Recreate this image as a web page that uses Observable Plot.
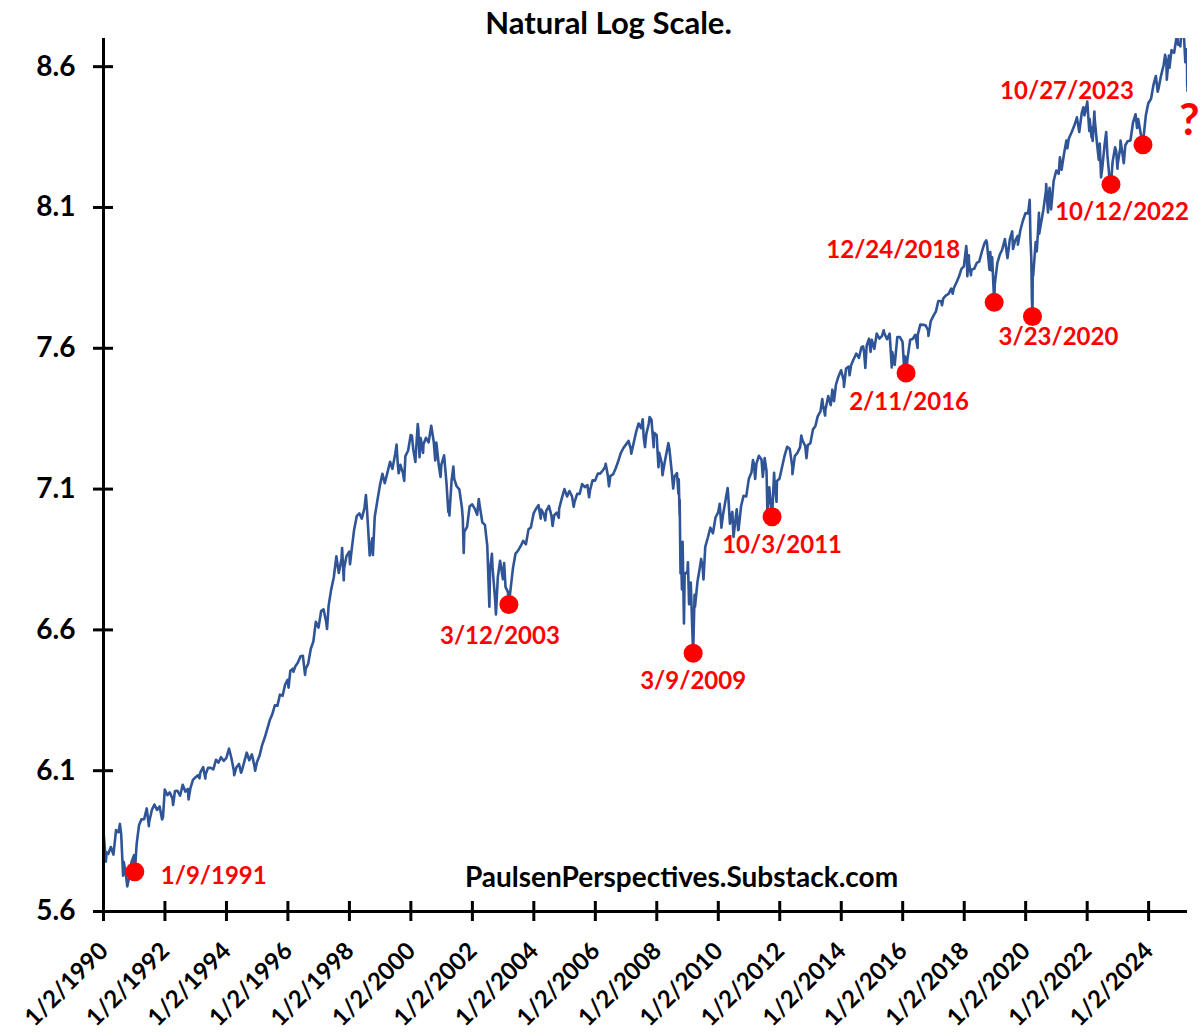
<!DOCTYPE html>
<html>
<head>
<meta charset="utf-8">
<script src="https://cdn.jsdelivr.net/npm/d3@7"></script>
<script src="https://cdn.jsdelivr.net/npm/@observablehq/plot@0.6"></script>
<style>
  html, body { margin: 0; padding: 0; background: #ffffff; }
  #chart { width: 1201px; height: 1036px; overflow: hidden; }
</style>
</head>
<body>
<div id="chart"></div>
<script>
// ---------------- text ----------------
const TITLE = "Natural Log Scale.";
const SOURCE = "PaulsenPerspectives.Substack.com";
const OPEN_QUESTION = "?";

// ---------------- axes ----------------
const xTickLabels = ["1/2/1990","1/2/1992","1/2/1994","1/2/1996","1/2/1998","1/2/2000",
  "1/2/2002","1/2/2004","1/2/2006","1/2/2008","1/2/2010","1/2/2012","1/2/2014",
  "1/2/2016","1/2/2018","1/2/2020","1/2/2022","1/2/2024"];
const yTickValues = [5.6, 6.1, 6.6, 7.1, 7.6, 8.1, 8.6];
const xDomainLabels = ["1990-01-02", "2025-04-08"];
const yDomainValues = [5.6, 8.7];

// ---------------- series: natural log of the index ----------------
const lnIndex = [
["1990-01-02",5.885],["1990-01-30",5.777],["1990-02-09",5.810],["1990-02-28",5.805],["1990-03-30",5.829],
["1990-04-30",5.802],["1990-05-31",5.889],["1990-06-29",5.881],["1990-07-16",5.911],["1990-07-31",5.875],
["1990-08-23",5.727],["1990-08-31",5.776],["1990-09-28",5.724],["1990-10-11",5.689],["1990-10-31",5.717],
["1990-11-30",5.775],["1990-12-31",5.800],["1991-01-09",5.741],["1991-01-31",5.840],["1991-02-28",5.906],
["1991-03-28",5.927],["1991-04-30",5.928],["1991-05-31",5.966],["1991-06-25",5.903],["1991-06-28",5.917],
["1991-07-31",5.961],["1991-08-30",5.980],["1991-09-30",5.961],["1991-10-31",5.973],["1991-11-29",5.927],
["1991-12-10",5.935],["1991-12-31",6.033],["1992-01-31",6.013],["1992-02-28",6.023],["1992-03-31",6.001],
["1992-04-08",5.978],["1992-04-30",6.028],["1992-05-29",6.029],["1992-06-30",6.011],["1992-07-31",6.050],
["1992-08-31",6.026],["1992-09-30",6.035],["1992-10-09",5.998],["1992-10-30",6.037],["1992-11-30",6.067],
["1992-12-31",6.077],["1993-01-29",6.084],["1993-02-16",6.073],["1993-02-26",6.094],["1993-03-31",6.113],
["1993-04-26",6.072],["1993-04-30",6.087],["1993-05-28",6.110],["1993-06-30",6.110],["1993-07-30",6.105],
["1993-08-31",6.139],["1993-09-30",6.129],["1993-10-29",6.148],["1993-11-30",6.135],["1993-12-31",6.145],
["1994-01-31",6.177],["1994-02-02",6.178],["1994-02-28",6.147],["1994-03-31",6.100],["1994-04-04",6.084],
["1994-04-29",6.111],["1994-05-31",6.124],["1994-06-24",6.093],["1994-06-30",6.096],["1994-07-29",6.128],
["1994-08-31",6.164],["1994-09-30",6.137],["1994-10-31",6.158],["1994-11-30",6.117],["1994-12-09",6.100],
["1994-12-30",6.130],["1995-01-31",6.154],["1995-02-28",6.189],["1995-03-31",6.216],["1995-04-28",6.244],
["1995-05-31",6.279],["1995-06-30",6.300],["1995-07-31",6.332],["1995-08-31",6.331],["1995-09-29",6.370],
["1995-10-31",6.366],["1995-11-30",6.406],["1995-12-29",6.423],["1996-01-10",6.395],["1996-01-31",6.455],
["1996-02-29",6.462],["1996-03-08",6.451],["1996-03-29",6.470],["1996-04-30",6.484],["1996-05-31",6.506],
["1996-06-28",6.508],["1996-07-24",6.440],["1996-07-31",6.461],["1996-08-30",6.480],["1996-09-30",6.533],
["1996-10-31",6.559],["1996-11-29",6.629],["1996-12-31",6.608],["1997-01-31",6.667],["1997-02-28",6.673],
["1997-03-31",6.630],["1997-04-11",6.603],["1997-04-30",6.686],["1997-05-30",6.743],["1997-06-30",6.786],
["1997-07-31",6.861],["1997-08-29",6.802],["1997-09-30",6.853],["1997-10-07",6.891],["1997-10-27",6.776],
["1997-10-31",6.819],["1997-11-28",6.862],["1997-12-31",6.878],["1998-01-09",6.833],["1998-01-30",6.888],
["1998-02-27",6.956],["1998-03-31",7.005],["1998-04-30",7.014],["1998-05-29",6.995],["1998-06-30",7.033],
["1998-07-17",7.079],["1998-07-31",7.022],["1998-08-31",6.864],["1998-09-30",6.925],["1998-10-08",6.866],
["1998-10-30",7.002],["1998-11-30",7.059],["1998-12-31",7.114],["1999-01-29",7.154],["1999-02-26",7.121],
["1999-03-31",7.160],["1999-04-30",7.197],["1999-05-28",7.172],["1999-06-30",7.225],["1999-07-16",7.258],
["1999-07-30",7.192],["1999-08-10",7.156],["1999-08-31",7.186],["1999-09-30",7.157],["1999-10-15",7.129],
["1999-10-29",7.217],["1999-11-30",7.236],["1999-12-31",7.292],["2000-01-14",7.290],["2000-01-31",7.240],
["2000-02-25",7.196],["2000-02-29",7.220],["2000-03-24",7.331],["2000-03-31",7.312],["2000-04-14",7.213],
["2000-04-28",7.281],["2000-05-26",7.228],["2000-05-31",7.259],["2000-06-30",7.282],["2000-07-31",7.266],
["2000-08-31",7.325],["2000-09-29",7.270],["2000-10-18",7.202],["2000-10-31",7.265],["2000-11-30",7.182],
["2000-12-20",7.143],["2000-12-29",7.186],["2001-01-31",7.220],["2001-02-28",7.123],["2001-03-22",7.019],
["2001-03-30",7.056],["2001-04-04",7.006],["2001-04-30",7.131],["2001-05-21",7.180],["2001-05-31",7.136],
["2001-06-29",7.110],["2001-07-31",7.099],["2001-08-31",7.033],["2001-09-10",6.996],["2001-09-21",6.873],
["2001-09-28",6.948],["2001-10-31",6.966],["2001-11-30",7.038],["2001-12-31",7.046],["2002-01-31",7.030],
["2002-02-28",7.009],["2002-03-19",7.065],["2002-03-28",7.045],["2002-04-30",6.982],["2002-05-31",6.973],
["2002-06-28",6.898],["2002-07-23",6.682],["2002-07-31",6.815],["2002-08-22",6.870],["2002-08-30",6.820],
["2002-09-30",6.704],["2002-10-09",6.655],["2002-10-31",6.786],["2002-11-27",6.845],["2002-11-29",6.842],
["2002-12-31",6.780],["2003-01-14",6.837],["2003-01-31",6.752],["2003-02-28",6.735],["2003-03-11",6.686],
["2003-03-12",6.690],["2003-03-31",6.743],["2003-04-30",6.821],["2003-05-30",6.871],["2003-06-30",6.882],
["2003-07-31",6.898],["2003-08-29",6.916],["2003-09-30",6.904],["2003-10-31",6.957],["2003-11-28",6.964],
["2003-12-31",7.014],["2004-01-30",7.031],["2004-02-27",7.043],["2004-03-24",6.995],["2004-03-31",7.027],
["2004-04-30",7.010],["2004-05-17",6.989],["2004-05-28",7.022],["2004-06-30",7.040],["2004-07-30",7.005],
["2004-08-12",6.969],["2004-08-31",7.007],["2004-09-30",7.016],["2004-10-25",6.998],["2004-10-29",7.030],
["2004-11-30",7.068],["2004-12-31",7.100],["2005-01-31",7.074],["2005-02-28",7.093],["2005-03-31",7.074],
["2005-04-20",7.037],["2005-04-29",7.053],["2005-05-31",7.083],["2005-06-30",7.083],["2005-07-29",7.118],
["2005-08-31",7.107],["2005-09-30",7.114],["2005-10-20",7.071],["2005-10-31",7.096],["2005-11-30",7.131],
["2005-12-30",7.130],["2006-01-31",7.155],["2006-02-28",7.155],["2006-03-31",7.166],["2006-04-28",7.178],
["2006-05-05",7.190],["2006-05-31",7.147],["2006-06-13",7.110],["2006-06-30",7.147],["2006-07-31",7.152],
["2006-08-31",7.173],["2006-09-29",7.197],["2006-10-31",7.228],["2006-11-30",7.245],["2006-12-29",7.257],
["2007-01-31",7.271],["2007-02-27",7.243],["2007-03-05",7.226],["2007-03-30",7.259],["2007-04-30",7.301],
["2007-05-31",7.333],["2007-06-29",7.316],["2007-07-19",7.348],["2007-07-31",7.283],["2007-08-15",7.249],
["2007-08-31",7.296],["2007-09-28",7.331],["2007-10-09",7.356],["2007-10-31",7.346],["2007-11-26",7.249],
["2007-11-30",7.300],["2007-12-31",7.292],["2008-01-22",7.178],["2008-01-31",7.229],["2008-02-29",7.193],
["2008-03-10",7.149],["2008-03-31",7.187],["2008-04-30",7.234],["2008-05-19",7.263],["2008-05-30",7.245],
["2008-06-30",7.155],["2008-07-15",7.102],["2008-07-31",7.145],["2008-08-29",7.157],["2008-09-15",7.084],
["2008-09-19",7.135],["2008-09-29",7.009],["2008-09-30",7.062],["2008-10-10",6.801],["2008-10-13",6.911],
["2008-10-27",6.744],["2008-10-31",6.876],["2008-11-04",6.913],["2008-11-20",6.623],["2008-11-28",6.798],
["2008-12-31",6.806],["2009-01-06",6.840],["2009-01-20",6.691],["2009-01-30",6.716],["2009-02-09",6.768],
["2009-02-27",6.600],["2009-03-09",6.517],["2009-03-26",6.725],["2009-03-31",6.682],["2009-04-30",6.772],
["2009-05-29",6.823],["2009-06-12",6.852],["2009-06-30",6.824],["2009-07-10",6.779],["2009-07-31",6.895],
["2009-08-31",6.928],["2009-09-30",6.963],["2009-10-30",6.943],["2009-11-30",6.999],["2009-12-31",7.017],
["2010-01-19",7.048],["2010-02-08",6.963],["2010-02-26",7.007],["2010-03-31",7.064],["2010-04-23",7.104],
["2010-04-30",7.079],["2010-05-20",6.977],["2010-05-28",6.993],["2010-06-18",7.019],["2010-06-30",6.938],
["2010-07-02",6.930],["2010-07-30",7.004],["2010-08-09",7.028],["2010-08-26",6.954],["2010-08-31",6.956],
["2010-09-30",7.040],["2010-10-29",7.076],["2010-11-30",7.074],["2010-12-31",7.137],["2011-01-31",7.159],
["2011-02-18",7.203],["2011-02-28",7.191],["2011-03-16",7.136],["2011-03-31",7.190],["2011-04-29",7.218],
["2011-05-31",7.204],["2011-06-15",7.143],["2011-06-30",7.186],["2011-07-07",7.210],["2011-07-29",7.164],
["2011-08-08",7.021],["2011-08-31",7.106],["2011-09-22",7.030],["2011-09-30",7.031],["2011-10-03",7.002],
["2011-10-27",7.158],["2011-10-31",7.134],["2011-11-25",7.055],["2011-11-30",7.129],["2011-12-30",7.137],
["2012-01-31",7.180],["2012-02-29",7.219],["2012-03-30",7.250],["2012-04-30",7.243],["2012-05-31",7.178],
["2012-06-01",7.153],["2012-06-29",7.217],["2012-07-31",7.229],["2012-08-31",7.249],["2012-09-14",7.290],
["2012-09-28",7.273],["2012-10-31",7.253],["2012-11-15",7.210],["2012-11-30",7.256],["2012-12-31",7.263],
["2013-01-31",7.312],["2013-02-28",7.323],["2013-03-28",7.358],["2013-04-30",7.376],["2013-05-21",7.420],
["2013-05-31",7.397],["2013-06-24",7.361],["2013-06-28",7.382],["2013-07-31",7.430],["2013-08-30",7.398],
["2013-09-18",7.453],["2013-09-30",7.427],["2013-10-08",7.412],["2013-10-31",7.471],["2013-11-29",7.499],
["2013-12-31",7.522],["2014-01-31",7.486],["2014-02-03",7.463],["2014-02-28",7.528],["2014-03-31",7.535],
["2014-04-11",7.504],["2014-04-30",7.541],["2014-05-30",7.562],["2014-06-30",7.581],["2014-07-31",7.566],
["2014-08-29",7.603],["2014-09-18",7.607],["2014-09-30",7.587],["2014-10-15",7.530],["2014-10-31",7.610],
["2014-11-28",7.634],["2014-12-16",7.587],["2014-12-31",7.630],["2015-01-30",7.598],["2015-02-27",7.652],
["2015-03-31",7.634],["2015-04-30",7.643],["2015-05-21",7.664],["2015-05-29",7.653],["2015-06-30",7.632],
["2015-07-31",7.652],["2015-08-25",7.532],["2015-08-31",7.587],["2015-09-29",7.541],["2015-10-30",7.640],
["2015-11-30",7.640],["2015-12-31",7.623],["2016-01-20",7.528],["2016-01-29",7.571],["2016-02-11",7.512],
["2016-02-29",7.566],["2016-03-31",7.630],["2016-04-29",7.633],["2016-05-31",7.648],["2016-06-27",7.601],
["2016-06-30",7.649],["2016-07-29",7.684],["2016-08-31",7.683],["2016-09-30",7.682],["2016-10-31",7.662],
["2016-11-03",7.644],["2016-11-30",7.696],["2016-12-30",7.714],["2017-01-31",7.731],["2017-02-28",7.768],
["2017-03-31",7.768],["2017-04-13",7.753],["2017-04-28",7.777],["2017-05-31",7.788],["2017-06-30",7.793],
["2017-07-31",7.812],["2017-08-18",7.794],["2017-08-31",7.813],["2017-09-29",7.832],["2017-10-31",7.854],
["2017-11-30",7.882],["2017-12-29",7.891],["2018-01-26",7.963],["2018-01-31",7.946],["2018-02-08",7.856],
["2018-02-26",7.930],["2018-02-28",7.906],["2018-03-23",7.859],["2018-03-29",7.879],["2018-04-30",7.882],
["2018-05-31",7.903],["2018-06-29",7.908],["2018-07-31",7.943],["2018-08-31",7.973],["2018-09-20",7.983],
["2018-09-28",7.977],["2018-10-29",7.879],["2018-10-31",7.905],["2018-11-07",7.942],["2018-11-23",7.876],
["2018-11-30",7.923],["2018-12-24",7.763],["2018-12-31",7.827],["2019-01-31",7.903],["2019-02-28",7.932],
["2019-03-29",7.950],["2019-04-30",7.988],["2019-05-31",7.920],["2019-06-28",7.987],["2019-07-26",8.015],
["2019-08-05",7.953],["2019-08-30",7.982],["2019-09-30",7.999],["2019-10-02",7.968],["2019-10-31",8.019],
["2019-11-29",8.052],["2019-12-31",8.080],["2020-01-31",8.079],["2020-02-19",8.127],["2020-02-28",7.991],
["2020-03-09",7.918],["2020-03-16",7.778],["2020-03-23",7.713],["2020-03-26",7.875],["2020-03-31",7.857],
["2020-04-30",7.977],["2020-05-13",7.944],["2020-05-29",8.021],["2020-06-08",8.081],["2020-06-11",8.007],
["2020-06-30",8.039],["2020-07-31",8.093],["2020-08-31",8.161],["2020-09-02",8.183],["2020-09-23",8.082],
["2020-09-30",8.121],["2020-10-12",8.170],["2020-10-30",8.093],["2020-11-30",8.195],["2020-12-31",8.231],
["2021-01-29",8.220],["2021-02-12",8.278],["2021-02-26",8.246],["2021-03-04",8.234],["2021-03-31",8.287],
["2021-04-30",8.338],["2021-05-12",8.310],["2021-05-28",8.344],["2021-06-30",8.366],["2021-07-30",8.388],
["2021-08-31",8.417],["2021-09-02",8.420],["2021-09-30",8.368],["2021-10-29",8.435],["2021-11-18",8.456],
["2021-11-30",8.427],["2021-12-31",8.469],["2022-01-03",8.476],["2022-01-27",8.372],["2022-01-31",8.415],
["2022-02-23",8.349],["2022-02-28",8.383],["2022-03-08",8.336],["2022-03-29",8.441],["2022-03-31",8.418],
["2022-04-29",8.326],["2022-05-20",8.269],["2022-05-31",8.327],["2022-06-16",8.207],["2022-06-30",8.239],
["2022-07-29",8.326],["2022-08-16",8.368],["2022-08-31",8.283],["2022-09-30",8.185],["2022-10-12",8.182],
["2022-10-31",8.262],["2022-11-30",8.314],["2022-12-13",8.299],["2022-12-28",8.238],["2022-12-30",8.253],
["2023-01-31",8.313],["2023-02-02",8.338],["2023-02-28",8.286],["2023-03-13",8.257],["2023-03-31",8.321],
["2023-04-28",8.335],["2023-05-31",8.338],["2023-06-30",8.401],["2023-07-31",8.431],["2023-08-18",8.382],
["2023-08-31",8.414],["2023-09-29",8.364],["2023-10-27",8.323],["2023-10-31",8.341],["2023-11-30",8.427],
["2023-12-29",8.470],["2024-01-31",8.486],["2024-02-29",8.536],["2024-03-28",8.567],["2024-04-19",8.511],
["2024-04-30",8.524],["2024-05-31",8.571],["2024-06-28",8.605],["2024-07-16",8.642],["2024-07-31",8.617],
["2024-08-05",8.554],["2024-08-30",8.639],["2024-09-06",8.596],["2024-09-30",8.659],["2024-10-31",8.649],
["2024-11-29",8.705],["2024-12-06",8.714],["2024-12-18",8.678],["2024-12-31",8.679],["2025-01-13",8.672],
["2025-01-23",8.719],["2025-01-31",8.706],["2025-02-19",8.723],["2025-02-28",8.692],["2025-03-13",8.616],
["2025-03-25",8.662],["2025-03-31",8.633],["2025-04-03",8.594],["2025-04-04",8.532],["2025-04-07",8.530],
["2025-04-08",8.514]
];

// ---------------- marked lows ----------------
const markerDates = ["1991-01-09","2003-03-12","2009-03-09","2011-10-03","2016-02-11",
  "2018-12-24","2020-03-23","2022-10-12","2023-10-27"];
const markerValues = [5.741, 6.690, 6.517, 7.002, 7.512, 7.763, 7.713, 8.182, 8.323];
const markerLabels = ["1/9/1991","3/12/2003","3/9/2009","10/3/2011","2/11/2016",
  "12/24/2018","3/23/2020","10/12/2022","10/27/2023"];

// ---------------- styles (label placement relative to each marker) ----------------
const labelPlacement = [
  {dx: 26, dy: 5, anchor: "start"},
  {dx: -9, dy: 32, anchor: "middle"},
  {dx: 0, dy: 28, anchor: "middle"},
  {dx: 10, dy: 29, anchor: "middle"},
  {dx: 3, dy: 29, anchor: "middle"},
  {dx: -101, dy: -52, anchor: "middle"},
  {dx: 26, dy: 21, anchor: "middle"},
  {dx: 11, dy: 28, anchor: "middle"},
  {dx: -76, dy: -53, anchor: "middle"}
];
const LINE_COLOR = "#2F5597";
const RED = "#FF0000";
const FONT = "Lato, 'Open Sans', 'DejaVu Sans', sans-serif";

// ---------------- build ----------------
const parseISO = d3.utcParse("%Y-%m-%d");
const parseUS = d3.utcParse("%m/%d/%Y");
const series = lnIndex.map(([d, v]) => ({date: parseISO(d), value: v}));
const xTicks = xTickLabels.map(label => ({date: parseUS(label), label}));
const markers = markerDates.map((d, i) => ({date: parseISO(d), value: markerValues[i], label: markerLabels[i]}));
const lastPoint = series[series.length - 1];

const labelMarks = markers.map((m, i) => Plot.text([m], {
  x: "date", y: "value", text: "label",
  dx: labelPlacement[i].dx, dy: labelPlacement[i].dy,
  textAnchor: labelPlacement[i].anchor,
  fill: RED, fontSize: 24, fontWeight: "bold", fontFamily: FONT
}));

const chart = Plot.plot({
  width: 1201,
  height: 1036,
  marginLeft: 103,
  marginRight: 14,
  marginTop: 38,
  marginBottom: 125,
  style: {fontFamily: FONT, background: "#ffffff", color: "#000000", overflow: "visible"},
  x: {type: "utc", domain: xDomainLabels.map(parseISO), label: null},
  y: {domain: yDomainValues, label: null},
  marks: [
    // y tick labels
    Plot.axisY({ticks: yTickValues, tickSize: 0, tickPadding: 28, tickFormat: d3.format(".1f"),
      fontSize: 28, fontWeight: "bold", fill: "#000", label: null}),
    // y tick marks crossing the axis
    Plot.axisY({ticks: yTickValues, tickSize: 20, dx: 10, tickFormat: () => "",
      stroke: "#000", strokeWidth: 3, label: null}),
    // x tick marks crossing the axis
    Plot.axisX({ticks: xTicks.map(t => t.date), tickSize: 20, dy: -10, tickFormat: () => "",
      stroke: "#000", strokeWidth: 3, label: null}),
    // x tick labels, rotated
    Plot.text(xTicks, {x: "date", text: "label", frameAnchor: "bottom", rotate: -45,
      textAnchor: "end", lineAnchor: "bottom", dx: 6, dy: 41,
      fontSize: 24, fontWeight: "bold", fill: "#000", fontFamily: FONT}),
    // the series
    Plot.line(series, {x: "date", y: "value", stroke: LINE_COLOR, strokeWidth: 2.6,
      strokeLinejoin: "round", clip: true}),
    // axis lines
    Plot.ruleX([series[0].date], {stroke: "#000", strokeWidth: 3}),
    Plot.ruleY([yDomainValues[0]], {stroke: "#000", strokeWidth: 3}),
    // marked lows
    Plot.dot(markers, {x: "date", y: "value", r: 9.5, fill: RED, stroke: "none"}),
    ...labelMarks,
    Plot.text([lastPoint], {x: "date", y: "value", text: () => OPEN_QUESTION, dx: 12, dy: 44,
      textAnchor: "end", lineAnchor: "bottom", fill: RED, fontSize: 44, fontWeight: "bold", fontFamily: FONT}),
    // title and source
    Plot.text([TITLE], {frameAnchor: "top", dx: -37, dy: -5, lineAnchor: "bottom",
      fontSize: 31, fontWeight: "bold", fill: "#000", fontFamily: FONT}),
    Plot.text([SOURCE], {frameAnchor: "bottom", dx: 36, dy: -25, lineAnchor: "bottom",
      fontSize: 28, fontWeight: "bold", fill: "#000", fontFamily: FONT})
  ]
});
document.getElementById("chart").appendChild(chart);
</script>
</body>
</html>
